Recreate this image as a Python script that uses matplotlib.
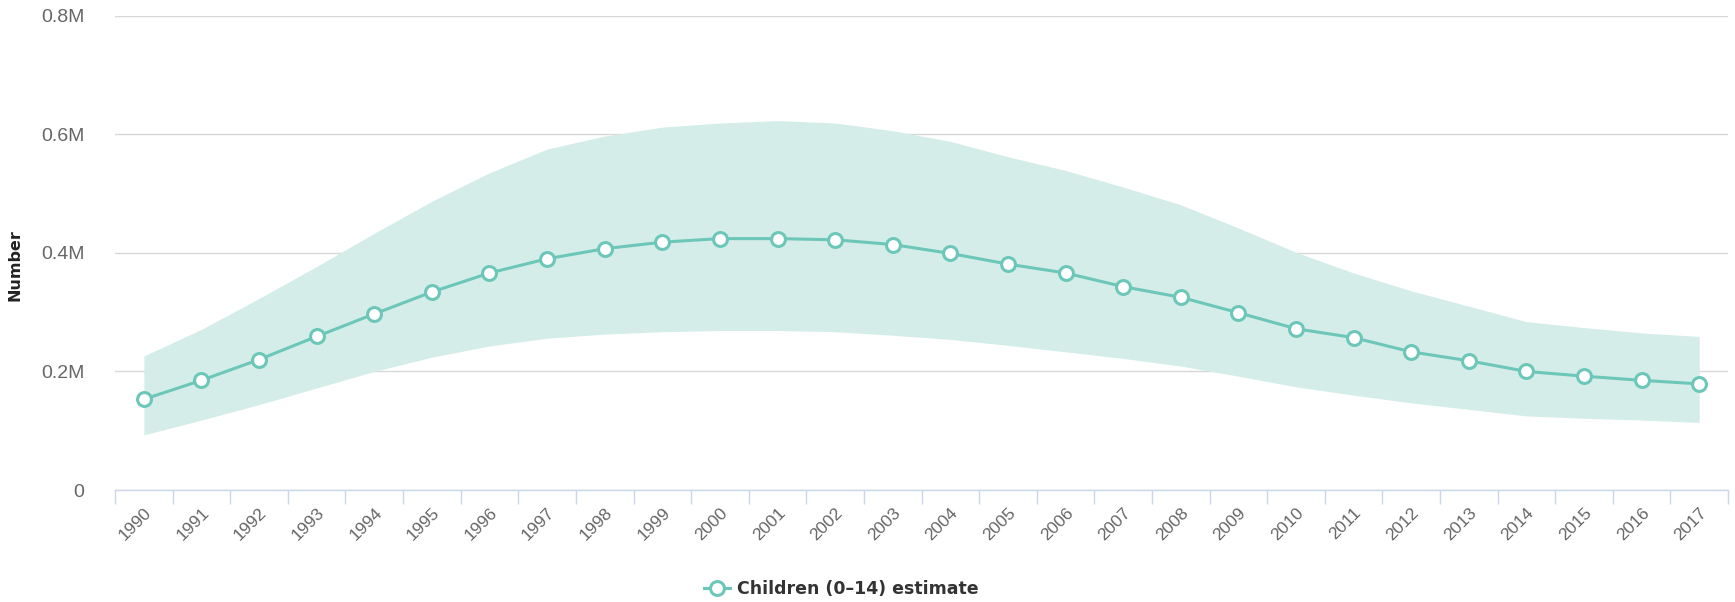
import matplotlib
matplotlib.use('Agg')
import numpy as np
from matplotlib import pyplot as plt

years = [str(y) for y in range(1990, 2018)]

# estimate and uncertainty band, in millions
estimate = [0.153, 0.185, 0.220, 0.259, 0.297, 0.334, 0.366, 0.390, 0.407, 0.418,
            0.424, 0.424, 0.422, 0.414, 0.399, 0.381, 0.366, 0.343, 0.325, 0.299,
            0.272, 0.257, 0.233, 0.218, 0.200, 0.192, 0.185, 0.179]
upper = [0.226, 0.271, 0.323, 0.377, 0.433, 0.487, 0.535, 0.575, 0.597, 0.612,
         0.619, 0.623, 0.619, 0.606, 0.588, 0.562, 0.539, 0.511, 0.481, 0.442,
         0.401, 0.366, 0.336, 0.310, 0.284, 0.274, 0.265, 0.259]
lower = [0.093, 0.118, 0.144, 0.172, 0.200, 0.224, 0.243, 0.256, 0.263, 0.267,
         0.269, 0.269, 0.267, 0.261, 0.254, 0.244, 0.233, 0.222, 0.209, 0.192,
         0.174, 0.160, 0.147, 0.136, 0.125, 0.121, 0.118, 0.114]

yticks = [0, 0.2, 0.4, 0.6, 0.8]
ylabels = ['0', '0.2M', '0.4M', '0.6M', '0.8M']

line_col = '#6cc7b8'
fill_col = '#d4ede9'

plt.rcParams['font.family'] = ['Liberation Sans', 'DejaVu Sans']

fig = plt.figure(figsize=(17.35, 6.02), dpi=100)
ax = fig.add_axes([0.0663, 0.186, 0.9297, 0.788])

x = np.arange(len(years))
ax.fill_between(x, lower, upper, color=fill_col, linewidth=0, zorder=1)
ax.plot(x, estimate, color=line_col, linewidth=2.2, marker='o', markersize=10,
        markerfacecolor='white', markeredgecolor=line_col, markeredgewidth=2.2,
        zorder=3, label='Children (0\u201314) estimate')

ax.set_xlim(-0.5, len(years) - 0.5)
ax.set_ylim(0, 0.8)

# y axis: gridlines only
ax.set_yticks(yticks)
ax.set_yticklabels(ylabels)
ax.yaxis.grid(True, color='#d8d8d8', linewidth=1)
ax.set_axisbelow(True)
ax.tick_params(axis='y', length=0, pad=22, labelsize=14, labelcolor='#666666')

# x axis: tick marks on category edges, labels in the middle
ax.set_xticks(x)
ax.set_xticklabels(years, rotation=45, ha='right', va='top', rotation_mode='anchor')
ax.tick_params(axis='x', which='major', length=0, pad=11, labelsize=12.5, labelcolor='#666666')
ax.set_xticks(np.arange(-0.5, len(years)), minor=True)
ax.tick_params(axis='x', which='minor', length=10, width=1, color='#ccd6eb')

for s in ['top', 'right', 'left']:
    ax.spines[s].set_visible(False)
ax.spines['bottom'].set_color('#ccd6eb')
ax.spines['bottom'].set_linewidth(1)

fig.text(0.0085, 0.56, 'Number', rotation=90, ha='center', va='center',
         fontsize=11.5, fontweight='bold', color='#222222', family='DejaVu Sans')

leg = fig.legend(loc='center', bbox_to_anchor=(0.485, 0.022), frameon=False,
                 prop={'family': 'DejaVu Sans', 'weight': 'bold', 'size': 12.5},
                 handlelength=1.5, handletextpad=0.4)
for t in leg.get_texts():
    t.set_color('#333333')

fig.savefig('out.png', dpi=100)
